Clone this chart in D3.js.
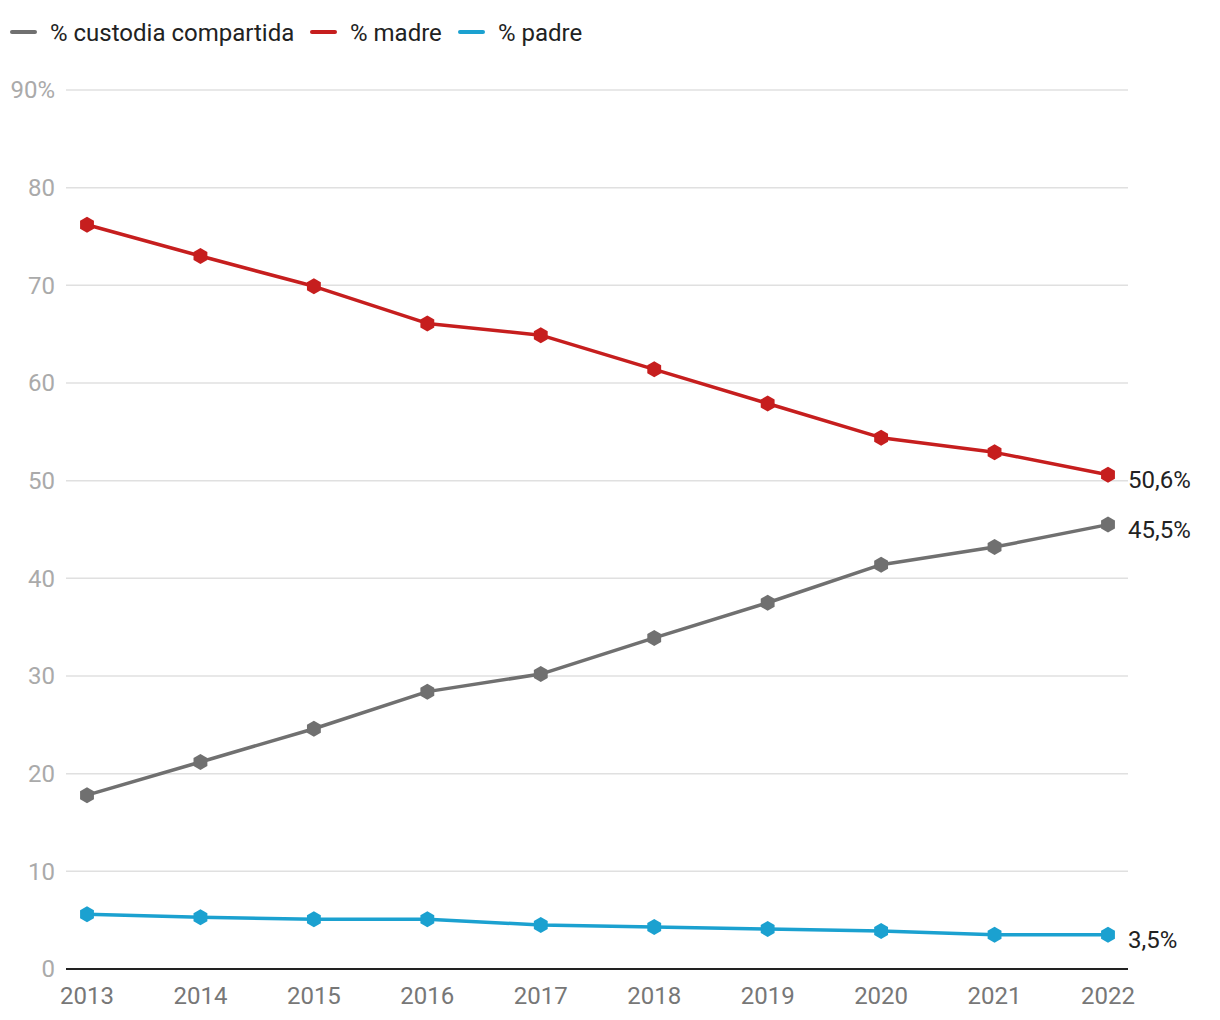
<!DOCTYPE html>
<html><head><meta charset="utf-8">
<script src="https://cdn.jsdelivr.net/npm/d3@7"></script>
<style>body{margin:0;background:#fff;font-family:Roboto,sans-serif;}</style>
</head><body><svg id="c" width="1220" height="1020"></svg>
<script>
const years = [2013,2014,2015,2016,2017,2018,2019,2020,2021,2022];
const compartida = [17.8,21.2,24.6,28.4,30.2,33.9,37.5,41.4,43.2,45.5];
const madre = [76.2,73.0,69.9,66.1,64.9,61.4,57.9,54.4,52.9,50.6];
const padre = [5.6,5.3,5.1,5.1,4.5,4.3,4.1,3.9,3.5,3.5];
const seriesNames = ["% custodia compartida","% madre","% padre"];
const colors = ["#707070","#c61e1e","#1ba1d0"];
const endLabels = ["45,5%","50,6%","3,5%"];
const yTicks = [0,10,20,30,40,50,60,70,80,90];

const svg = d3.select("#c");
const x = d3.scalePoint().domain(years).range([87,1108]);
const y = d3.scaleLinear().domain([0,90]).range([969,90]);

svg.append("g").selectAll("line").data(yTicks.filter(d=>d>0)).join("line")
  .attr("x1",66).attr("x2",1128).attr("y1",d=>y(d)).attr("y2",d=>y(d))
  .attr("stroke","#e0e0e0").attr("stroke-width",1.5);
svg.append("line").attr("x1",66).attr("x2",1128).attr("y1",y(0)).attr("y2",y(0))
  .attr("stroke","#222").attr("stroke-width",2);
svg.append("g").selectAll("text").data(yTicks).join("text")
  .attr("x",55).attr("y",d=>y(d)).attr("dy","0.35em").attr("text-anchor","end")
  .attr("fill","#aaaaaa").attr("font-size",24).text(d=>d===90?"90%":d);
svg.append("g").selectAll("text").data(years).join("text")
  .attr("x",d=>x(d)).attr("y",1004).attr("text-anchor","middle")
  .attr("fill","#777").attr("font-size",24).text(d=>d);

const data = [compartida,madre,padre];
const line = d3.line().x((d,i)=>x(years[i])).y(d=>y(d));
const hex = r => { const p=[]; for(let k=0;k<6;k++){const a=Math.PI/3*k - Math.PI/2; p.push([r*Math.cos(a),r*Math.sin(a)]);} return "M"+p.map(q=>q.join(",")).join("L")+"Z"; };
data.forEach((vals,si)=>{
  const g = svg.append("g");
  g.append("path").datum(vals).attr("d",line).attr("fill","none")
    .attr("stroke",colors[si]).attr("stroke-width",3.5).attr("stroke-linejoin","round");
  g.selectAll("path.m").data(vals).join("path").attr("class","m")
    .attr("transform",(d,i)=>`translate(${x(years[i])},${y(d)})`)
    .attr("d",hex(8)).attr("fill",colors[si]);
  g.append("text").attr("x",x(years[9])+20).attr("y",y(vals[9])+5).attr("dy","0.35em")
    .attr("fill","#222").attr("font-size",24).text(endLabels[si]);
});

const lx = [12,312,460];
seriesNames.forEach((n,i)=>{
  svg.append("line").attr("x1",lx[i]).attr("x2",lx[i]+23).attr("y1",32).attr("y2",32)
    .attr("stroke",colors[i]).attr("stroke-width",4).attr("stroke-linecap","round");
  svg.append("text").attr("x",lx[i]+38).attr("y",32).attr("dy","0.36em")
    .attr("fill","#222").attr("font-size",24).text(n);
});
</script></body></html>
